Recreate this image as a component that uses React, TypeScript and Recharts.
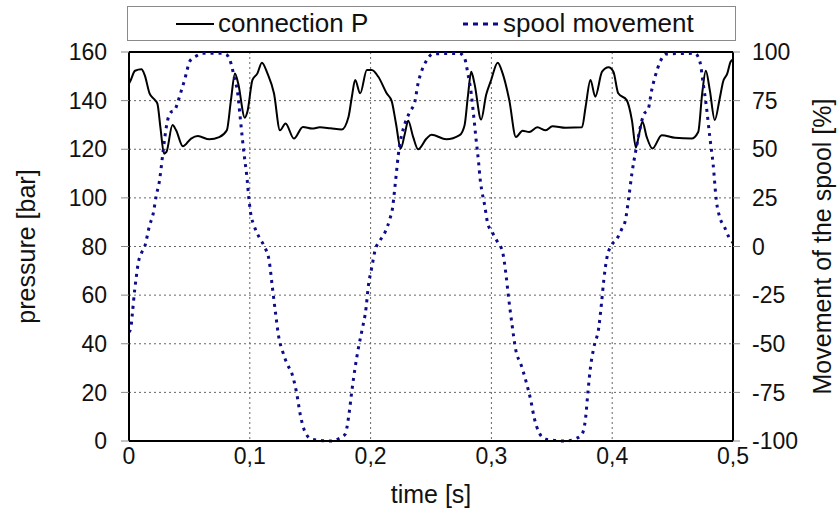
import React from 'react'
import { LineChart, Line, XAxis, YAxis, CartesianGrid, ReferenceLine } from 'recharts'

// time [s] and pressure [bar] of connection P
const pressureTime = [
  0, 0.0015, 0.005, 0.0103, 0.013, 0.017, 0.021, 0.0235, 0.026, 0.029, 0.031, 0.036, 0.039, 0.0446,
  0.0514, 0.057, 0.0665, 0.0747, 0.081, 0.0844, 0.0877, 0.0904, 0.0959, 0.098, 0.1022, 0.1063, 0.11,
  0.1146, 0.12, 0.125, 0.1296, 0.1365, 0.144, 0.1516, 0.158, 0.1667, 0.176, 0.1817, 0.1845, 0.1872,
  0.1914, 0.1969, 0.201, 0.2064, 0.2133, 0.2174, 0.221, 0.2249, 0.2284, 0.2311, 0.2352, 0.2393, 0.2463,
  0.2504, 0.2627, 0.2737, 0.2778, 0.2805, 0.2833, 0.286, 0.2915, 0.2956, 0.2998, 0.3052, 0.3093, 0.3148,
  0.3203, 0.3258, 0.3313, 0.338, 0.345, 0.3505, 0.3615, 0.375, 0.378, 0.382, 0.386, 0.3916, 0.397,
  0.401, 0.405, 0.412, 0.4163, 0.4196, 0.4224, 0.425, 0.4286, 0.4333, 0.441, 0.452, 0.4657, 0.4712,
  0.4745, 0.4775, 0.4808, 0.4849, 0.489, 0.4918, 0.4953, 0.498, 0.5,
]
const pressureBar = [
  147, 148.5, 152.3, 152.9, 150.5, 143, 140.5, 138.8, 129, 118.2, 118.9, 130, 127.8, 121.2,
  124.4, 125.4, 124.1, 125, 127.8, 140.2, 151.2, 147, 133, 135.4, 148.5, 151.2, 155.6,
  151.2, 143, 127.8, 130.6, 124.4, 129.2, 128.5, 129, 128.6, 128.1, 133.3, 141.6, 148.5,
  143, 152.6, 152.6, 149.8, 143, 139.9, 130.6, 120.3, 126.5, 131.7, 125.1, 120, 124.4,
  126, 124.1, 125.8, 129.9, 141.6, 151.9, 147, 132.2, 142.3, 148.5, 155.6, 151.2, 140.2,
  125, 127.6, 127.1, 129, 127.8, 129.5, 128.8, 129, 137.5, 148.5, 141.6, 151.9, 153.7,
  151.9, 143, 140.2, 132, 120.7, 126.5, 131.3, 125, 120.3, 125.8, 124.7, 124.4, 127.1,
  143, 152.3, 144.3, 132, 140.9, 147.8, 151.2, 156, 157,
]

// time [s] and movement of the spool [%]
const spoolTime = [
  0, 0.0015, 0.0027, 0.0048, 0.006, 0.0076, 0.0103, 0.013, 0.017, 0.02, 0.0226, 0.0253, 0.0267, 0.028,
  0.032, 0.035, 0.0377, 0.0405, 0.043, 0.046, 0.048, 0.05, 0.0556, 0.061, 0.076, 0.081, 0.0844, 0.087,
  0.09, 0.092, 0.094, 0.0959, 0.0973, 0.0994, 0.1008, 0.1035, 0.1077, 0.1123, 0.116, 0.1187, 0.1214,
  0.124, 0.127, 0.131, 0.135, 0.1387, 0.142, 0.146, 0.1516, 0.1667, 0.175, 0.179, 0.1817, 0.1845,
  0.1872, 0.19, 0.1928, 0.1963, 0.198, 0.201, 0.2037, 0.2078, 0.212, 0.216, 0.2183, 0.2194, 0.221,
  0.2229, 0.2284, 0.2325, 0.2366, 0.2393, 0.242, 0.2457, 0.2517, 0.2737, 0.2778, 0.2805, 0.2833,
  0.2854, 0.2874, 0.2895, 0.2905, 0.292, 0.2942, 0.297, 0.3006, 0.3052, 0.3093, 0.312, 0.3142, 0.317,
  0.3203, 0.3244, 0.3285, 0.3327, 0.3354, 0.3395, 0.345, 0.3615, 0.3697, 0.375, 0.378, 0.38, 0.382,
  0.3848, 0.3889, 0.3911, 0.393, 0.3957, 0.3993, 0.404, 0.408, 0.4109, 0.4136, 0.4163, 0.4196, 0.4259,
  0.43, 0.4327, 0.4355, 0.4397, 0.445, 0.4685, 0.4726, 0.4753, 0.478, 0.4808, 0.4835, 0.4862, 0.489,
  0.493, 0.4966, 0.5,
]
const spoolPct = [
  -44, -42, -35, -21.8, -15.8, -8.6, -3.4, 0, 10.8, 16.8, 26.3, 34, 40.9, 47.8,
  65, 69.2, 70, 74.4, 79.5, 85.6, 90.4, 95, 97.9, 99.3, 99.3, 98.5, 94.2, 87.3,
  78.7, 66.7, 54.6, 44.3, 37.5, 23.7, 16.8, 10.8, 4.8, -0.3, -7.2, -21, -34.7,
  -46.7, -53.6, -60.5, -65.6, -75.1, -87.1, -95.7, -99.1, -100, -98.3, -96.5, -88, -74.2,
  -62.2, -51.9, -43.3, -31.3, -21, -10.7, -2, 3.1, 7.4, 14.3, 20.3, 26.3, 35.7,
  46.9, 63.2, 69.2, 74.4, 83.9, 89.8, 95, 99, 99.3, 96.8, 89, 78.7,
  66.7, 54.6, 42.6, 35.7, 28.9, 22, 11.7, 7.4, 2.2, -2.9, -14.1, -26.1, -39.8,
  -53.6, -60.5, -69, -79.4, -88, -95.7, -99.1, -100, -98.8, -96.5, -88, -74.2, -62.2,
  -51.9, -41.6, -29.5, -17.5, -5.5, 0.5, 4, 9.1, 13.4, 24.6, 37.5, 49.5, 67.5,
  71, 80.4, 87.3, 95, 99, 99.3, 95, 83.9, 71.8, 56.3, 42.6, 23.7, 15.1,
  10, 4.8, 2,
]

const xTicks = [0, 0.1, 0.2, 0.3, 0.4, 0.5]
const xTickLabels = ['0', '0,1', '0,2', '0,3', '0,4', '0,5']
const pressureTicks = [0, 20, 40, 60, 80, 100, 120, 140, 160]
const spoolTicks = [-100, -75, -50, -25, 0, 25, 50, 75, 100]

const pressureData = pressureTime.map((t, i) => ({ t, p: pressureBar[i] }))
const spoolData = spoolTime.map((t, i) => ({ t, s: spoolPct[i] }))

const FONT = '"Liberation Sans", Arial, sans-serif'
const SPOOL_COLOR = '#0c0c8a'

function LegendBox() {
  return (
    <div
      style={{
        position: 'absolute', left: 127, top: 6, width: 607, height: 33,
        border: '1px solid #8a8a8a', background: '#fff', fontFamily: FONT, fontSize: 26, color: '#111',
      }}
    >
      <svg style={{ position: 'absolute', left: 48, top: 15 }} width={40} height={4}>
        <line x1={0} y1={2} x2={38} y2={2} stroke="#000" strokeWidth={2} />
      </svg>
      <span style={{ position: 'absolute', left: 90, top: 1, lineHeight: '30px' }}>connection P</span>
      <svg style={{ position: 'absolute', left: 335, top: 14, overflow: 'visible' }} width={40} height={6}>
        <line x1={0} y1={3} x2={38} y2={3} stroke={SPOOL_COLOR} strokeWidth={3} strokeDasharray="5 5" />
      </svg>
      <span style={{ position: 'absolute', left: 375, top: 1, lineHeight: '30px' }}>spool movement</span>
    </div>
  )
}

export default function App() {
  const tickStyle = { fill: '#111', fontSize: 23, fontFamily: FONT }
  return (
    <div style={{ position: 'absolute', left: 0, top: 0, width: 839, height: 512, background: '#fff' }}>
      <LineChart width={839} height={512} margin={{ top: 52, right: 0, bottom: 0, left: 0 }}>
        <CartesianGrid yAxisId="left" stroke="#666" strokeDasharray="2 3" />
        <XAxis
          dataKey="t"
          type="number"
          domain={[0, 0.5]}
          ticks={xTicks}
          tickFormatter={(v: number) => xTickLabels[xTicks.indexOf(v)] ?? String(v)}
          height={71}
          tickLine={false}
          tickSize={0}
          tickMargin={7}
          axisLine={{ stroke: '#000', strokeWidth: 2 }}
          tick={tickStyle}
          label={{ value: 'time [s]', position: 'center', dy: 18, fontSize: 25, fontFamily: FONT, fill: '#111' }}
          allowDuplicatedCategory={false}
        />
        <YAxis
          yAxisId="left"
          domain={[0, 160]}
          ticks={pressureTicks}
          width={129}
          tickSize={8}
          tickMargin={14}
          tickLine={{ stroke: '#888' }}
          axisLine={{ stroke: '#000', strokeWidth: 2 }}
          tick={tickStyle}
          label={{ value: 'pressure [bar]', angle: -90, position: 'center', dx: -38, fontSize: 25, fontFamily: FONT, fill: '#111' }}
        />
        <YAxis
          yAxisId="right"
          orientation="right"
          domain={[-100, 100]}
          ticks={spoolTicks}
          width={106}
          tickSize={7}
          tickMargin={12}
          tickLine={{ stroke: '#888' }}
          axisLine={{ stroke: '#000', strokeWidth: 2 }}
          tick={{ ...tickStyle, textAnchor: 'start' }}
          label={{ value: 'Movement of the spool [%]', angle: -90, position: 'center', dx: 36, fontSize: 25, fontFamily: FONT, fill: '#111' }}
        />
        <ReferenceLine yAxisId="left" y={160} stroke="#000" strokeWidth={2} />
        <Line
          yAxisId="left"
          data={pressureData}
          dataKey="p"
          type="monotone"
          stroke="#000"
          strokeWidth={2}
          dot={false}
          isAnimationActive={false}
        />
        <Line
          yAxisId="right"
          data={spoolData}
          dataKey="s"
          type="monotone"
          stroke={SPOOL_COLOR}
          strokeWidth={3}
          strokeDasharray="3 5"
          dot={false}
          isAnimationActive={false}
        />
      </LineChart>
      <LegendBox />
    </div>
  )
}
